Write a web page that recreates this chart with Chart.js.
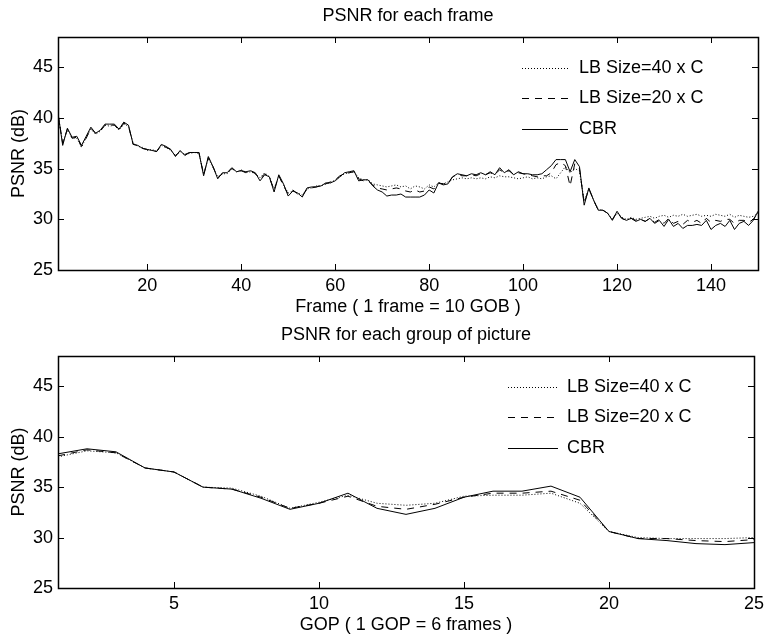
<!DOCTYPE html>
<html>
<head>
<meta charset="utf-8">
<script src="https://cdn.jsdelivr.net/npm/chart.js@4"></script>
<style>
  body { margin: 0; background: #fff; }
  canvas { display: block; }
</style>
</head>
<body>
<canvas id="frameChart" width="769" height="320"></canvas>
<canvas id="gopChart" width="769" height="317"></canvas>
<script>
// Series labels (legend order)
const seriesLabels = ['LB Size=40 x C', 'LB Size=20 x C', 'CBR'];

// PSNR per frame (frames 1..150)
const frameCbr = [
  40.5, 37.3, 39.0, 38.1, 38.2, 37.3, 38.2, 39.1, 38.5, 38.8,
  39.4, 39.4, 39.4, 38.9, 39.6, 39.3, 37.4, 37.3, 37.0, 36.9,
  36.8, 36.7, 37.4, 37.2, 36.9, 36.2, 36.8, 36.3, 36.6, 36.6,
  36.6, 34.3, 36.2, 35.2, 34.0, 34.6, 34.6, 35.1, 34.7, 34.8,
  34.7, 34.8, 34.6, 33.8, 34.4, 34.2, 32.7, 34.4, 33.5, 32.3,
  32.8, 32.6, 32.2, 33.1, 33.2, 33.2, 33.3, 33.6, 33.6, 33.8,
  34.2, 34.6, 34.7, 34.8, 33.8, 33.9, 33.9, 33.3, 32.9, 32.7,
  32.3, 32.4, 32.4, 32.5, 32.2, 32.2, 32.2, 32.2, 32.4, 32.9,
  32.6, 33.6, 33.4, 33.5, 34.2, 34.5, 34.4, 34.3, 34.5, 34.4,
  34.6, 34.4, 34.7, 34.4, 35.1, 34.6, 34.9, 34.4, 34.7, 34.5,
  34.5, 34.4, 34.4, 34.5, 34.9, 35.3, 35.9, 35.9, 35.9, 34.7,
  35.9, 35.2, 31.4, 33.1, 31.9, 30.9, 30.9, 30.6, 29.9, 30.8,
  30.1, 29.9, 30.1, 29.8, 30.0, 29.8, 30.1, 29.6, 29.9, 29.3,
  30.0, 29.3, 29.6, 29.1, 29.4, 29.4, 29.5, 29.4, 29.9, 29.0,
  29.4, 29.6, 29.3, 29.9, 29.0, 29.6, 29.8, 29.4, 29.9, 30.8
];
const frameLb20 = [
  40.4, 37.5, 38.9, 38.0, 38.1, 37.2, 38.0, 39.0, 38.5, 38.7,
  39.3, 39.3, 39.3, 38.8, 39.5, 39.2, 37.4, 37.3, 37.0, 36.9,
  36.8, 36.7, 37.3, 37.1, 36.9, 36.3, 36.7, 36.4, 36.6, 36.6,
  36.6, 34.4, 36.1, 35.2, 34.1, 34.5, 34.6, 35.0, 34.8, 34.8,
  34.6, 34.8, 34.5, 34.0, 34.5, 34.1, 32.9, 34.3, 33.3, 32.5,
  32.9, 32.5, 32.3, 33.0, 33.1, 33.2, 33.4, 33.5, 33.7, 33.9,
  34.3, 34.5, 34.6, 34.7, 34.0, 33.8, 33.8, 33.4, 33.1, 33.0,
  32.9, 33.0, 33.1, 33.0, 32.8, 32.7, 32.9, 32.7, 32.8, 33.2,
  33.0, 33.6, 33.5, 33.6, 34.2, 34.4, 34.3, 34.3, 34.4, 34.3,
  34.5, 34.4, 34.6, 34.4, 34.9, 34.6, 34.8, 34.4, 34.6, 34.5,
  34.4, 34.3, 34.2, 34.3, 34.3, 34.6, 35.4, 35.6, 35.3, 33.3,
  35.5, 35.0, 31.6, 33.0, 31.9, 30.9, 30.9, 30.6, 30.0, 30.7,
  30.1, 29.9, 30.1, 29.9, 30.0, 29.8, 30.1, 29.7, 30.0, 29.6,
  30.1, 29.6, 29.8, 29.5, 29.9, 29.7, 29.9, 29.6, 30.1, 29.7,
  29.9, 29.8, 30.0, 30.0, 29.6, 29.9, 29.9, 29.7, 30.0, 30.7
];
const frameLb40 = [
  40.3, 37.6, 38.8, 38.1, 38.0, 37.1, 38.1, 38.9, 38.4, 38.7,
  39.3, 39.2, 39.3, 38.8, 39.4, 39.2, 37.5, 37.2, 37.1, 36.8,
  36.9, 36.7, 37.3, 37.1, 36.8, 36.3, 36.7, 36.4, 36.5, 36.6,
  36.5, 34.5, 36.0, 35.1, 34.2, 34.5, 34.5, 35.0, 34.7, 34.9,
  34.6, 34.7, 34.5, 34.1, 34.6, 34.2, 33.0, 34.3, 33.4, 32.6,
  32.8, 32.6, 32.4, 33.0, 33.1, 33.3, 33.3, 33.5, 33.6, 33.9,
  34.2, 34.5, 34.6, 34.7, 34.1, 33.9, 33.9, 33.5, 33.4, 33.3,
  33.2, 33.3, 33.4, 33.2, 33.3, 33.0, 33.3, 33.2, 33.0, 33.4,
  33.2, 33.6, 33.5, 33.7, 33.9, 34.0, 34.1, 34.0, 34.1, 34.0,
  34.1, 34.0, 34.2, 34.1, 34.3, 34.2, 34.2, 34.1, 34.0, 34.1,
  34.2, 34.0, 34.1, 34.0, 34.2, 34.3, 34.0, 34.6, 35.2, 34.6,
  35.0, 34.8, 31.8, 33.0, 31.9, 31.0, 30.9, 30.6, 30.0, 30.6,
  30.2, 30.0, 30.2, 30.0, 30.1, 30.2, 30.3, 30.1, 30.3, 30.4,
  30.2, 30.4, 30.3, 30.5, 30.3, 30.4, 30.5, 30.3, 30.4, 30.3,
  30.5, 30.4, 30.3, 30.5, 30.2, 30.4, 30.3, 30.2, 30.3, 30.6
];

// PSNR per group of pictures (GOP 1..25)
const gopCbr = [38.3, 38.8, 38.5, 36.9, 36.5, 35.0, 34.8, 33.9, 32.8, 33.4, 34.4, 32.9, 32.3,
                32.9, 34.0, 34.6, 34.6, 35.1, 34.0, 30.6, 29.9, 29.7, 29.4, 29.3, 29.5];
const gopLb20 = [38.1, 38.7, 38.4, 36.9, 36.5, 35.0, 34.8, 34.0, 32.9, 33.4, 34.1, 33.1, 32.8,
                 33.3, 34.0, 34.4, 34.4, 34.6, 33.7, 30.6, 29.9, 29.9, 29.7, 29.6, 29.8];
const gopLb40 = [38.0, 38.6, 38.4, 36.9, 36.5, 35.0, 34.9, 34.1, 32.9, 33.5, 34.2, 33.4, 33.2,
                 33.4, 34.1, 34.2, 34.2, 34.4, 33.4, 30.6, 30.0, 29.9, 29.9, 29.9, 30.0];

// Tick labels
const frameTicks = [20, 40, 60, 80, 100, 120, 140];
const gopTicks = [5, 10, 15, 20, 25];
const psnrTicks = [25, 30, 35, 40, 45];

const FONT = "'Liberation Sans', Arial, Helvetica, sans-serif";
Chart.defaults.font.family = FONT;
Chart.defaults.font.size = 18;
Chart.defaults.color = '#000';

// box around the plot and ticks pointing inwards on all four sides
const innerTicks = {
  id: 'innerTicks',
  afterDraw(chart) {
    const { ctx, chartArea: a, scales } = chart;
    const len = 6;
    ctx.save();
    ctx.strokeStyle = '#000';
    ctx.lineWidth = 1;
    ctx.setLineDash([]);
    ctx.beginPath();
    scales.x.ticks.forEach(t => {
      const px = Math.round(scales.x.getPixelForValue(t.value)) + 0.5;
      ctx.moveTo(px, a.bottom); ctx.lineTo(px, a.bottom - len);
      ctx.moveTo(px, a.top); ctx.lineTo(px, a.top + len);
    });
    scales.y.ticks.forEach(t => {
      const py = Math.round(scales.y.getPixelForValue(t.value)) + 0.5;
      ctx.moveTo(a.left, py); ctx.lineTo(a.left + len, py);
      ctx.moveTo(a.right, py); ctx.lineTo(a.right - len, py);
    });
    ctx.stroke();
    ctx.lineWidth = 1.5;
    ctx.strokeRect(Math.round(a.left) + 0.5, Math.round(a.top) + 0.5,
      Math.round(a.right - a.left), Math.round(a.bottom - a.top));
    ctx.restore();
  }
};

// legend drawn inside the plot, top right, without a frame
const lineLegend = {
  id: 'lineLegend',
  afterDatasetsDraw(chart, args, opts) {
    const { ctx, chartArea: a } = chart;
    ctx.save();
    chart.data.datasets.forEach((ds, i) => {
      const y = a.top + opts.rows[i];
      ctx.beginPath();
      ctx.setLineDash(ds.borderDash || []);
      ctx.strokeStyle = ds.borderColor;
      ctx.lineWidth = ds.borderWidth;
      ctx.moveTo(a.right - opts.lineStart, y + 0.5);
      ctx.lineTo(a.right - opts.lineEnd, y + 0.5);
      ctx.stroke();
      ctx.setLineDash([]);
      ctx.fillStyle = '#000';
      ctx.font = '18px ' + FONT;
      ctx.textAlign = 'left';
      ctx.textBaseline = 'middle';
      ctx.fillText(ds.label, a.right - opts.textStart, y);
    });
    ctx.restore();
  }
};

function makeDatasets(lb40, lb20, cbr) {
  const styles = [[1, 2], [7, 6], []];
  return [lb40, lb20, cbr].map((vals, i) => ({
    label: seriesLabels[i],
    data: vals.map((v, k) => ({ x: k + 1, y: v })),
    borderColor: '#000',
    borderWidth: 1,
    borderDash: styles[i],
    pointRadius: 0,
    tension: 0,
    fill: false
  }));
}

function makeChart(id, cfg) {
  const ctx = document.getElementById(id).getContext('2d');
  return new Chart(ctx, {
    type: 'line',
    data: { datasets: makeDatasets(cfg.lb40, cfg.lb20, cfg.cbr) },
    plugins: [innerTicks, lineLegend],
    options: {
      responsive: false,
      animation: false,
      devicePixelRatio: 1,
      layout: { padding: { left: 0, right: 11, top: 0, bottom: 0 } },
      plugins: {
        legend: { display: false },
        tooltip: { enabled: false },
        lineLegend: cfg.legend
      },
      scales: {
        x: {
          type: 'linear',
          min: 1,
          max: cfg.xMax,
          grid: { display: false, drawTicks: false },
          border: { display: false },
          afterBuildTicks: s => { s.ticks = cfg.xTicks.map(v => ({ value: v })); },
          afterFit: s => { s.height = cfg.xAxisHeight; },
          ticks: { padding: 5, maxRotation: 0, autoSkip: false },
          title: { display: true, text: cfg.xTitle, padding: { top: 0, bottom: cfg.xTitlePad } }
        },
        xTop: {
          type: 'linear',
          position: 'top',
          min: 1,
          max: cfg.xMax,
          grid: { display: false, drawTicks: false },
          border: { display: false },
          ticks: { display: false },
          afterFit: s => { s.height = cfg.topHeight; },
          title: { display: true, text: cfg.title, padding: { top: cfg.titlePad, bottom: 0 } }
        },
        y: {
          min: 25,
          max: 48,
          grid: { display: false, drawTicks: false },
          border: { display: false },
          afterBuildTicks: s => { s.ticks = psnrTicks.map(v => ({ value: v })); },
          afterFit: s => { s.width = 58; },
          ticks: { padding: 5 },
          title: { display: true, text: 'PSNR (dB)', padding: { top: 8, bottom: 0 } }
        }
      }
    }
  });
}

window.onload = function () {
  makeChart('frameChart', {
    lb40: frameLb40, lb20: frameLb20, cbr: frameCbr,
    xMax: 150, xTicks: frameTicks,
    xTitle: 'Frame ( 1 frame = 10 GOB )', xAxisHeight: 50, xTitlePad: 2.5,
    title: 'PSNR for each frame', topHeight: 37, titlePad: 5,
    legend: { rows: [31, 61, 92], lineStart: 236, lineEnd: 190, textStart: 179 }
  });
  makeChart('gopChart', {
    lb40: gopLb40, lb20: gopLb20, cbr: gopCbr,
    xMax: 25, xTicks: gopTicks,
    xTitle: 'GOP ( 1 GOP = 6 frames )', xAxisHeight: 49, xTitlePad: 1.2,
    title: 'PSNR for each group of picture', topHeight: 36, titlePad: 4.2,
    legend: { rows: [31, 61, 92], lineStart: 246, lineEnd: 196, textStart: 187 }
  });
};
</script>
</body>
</html>
